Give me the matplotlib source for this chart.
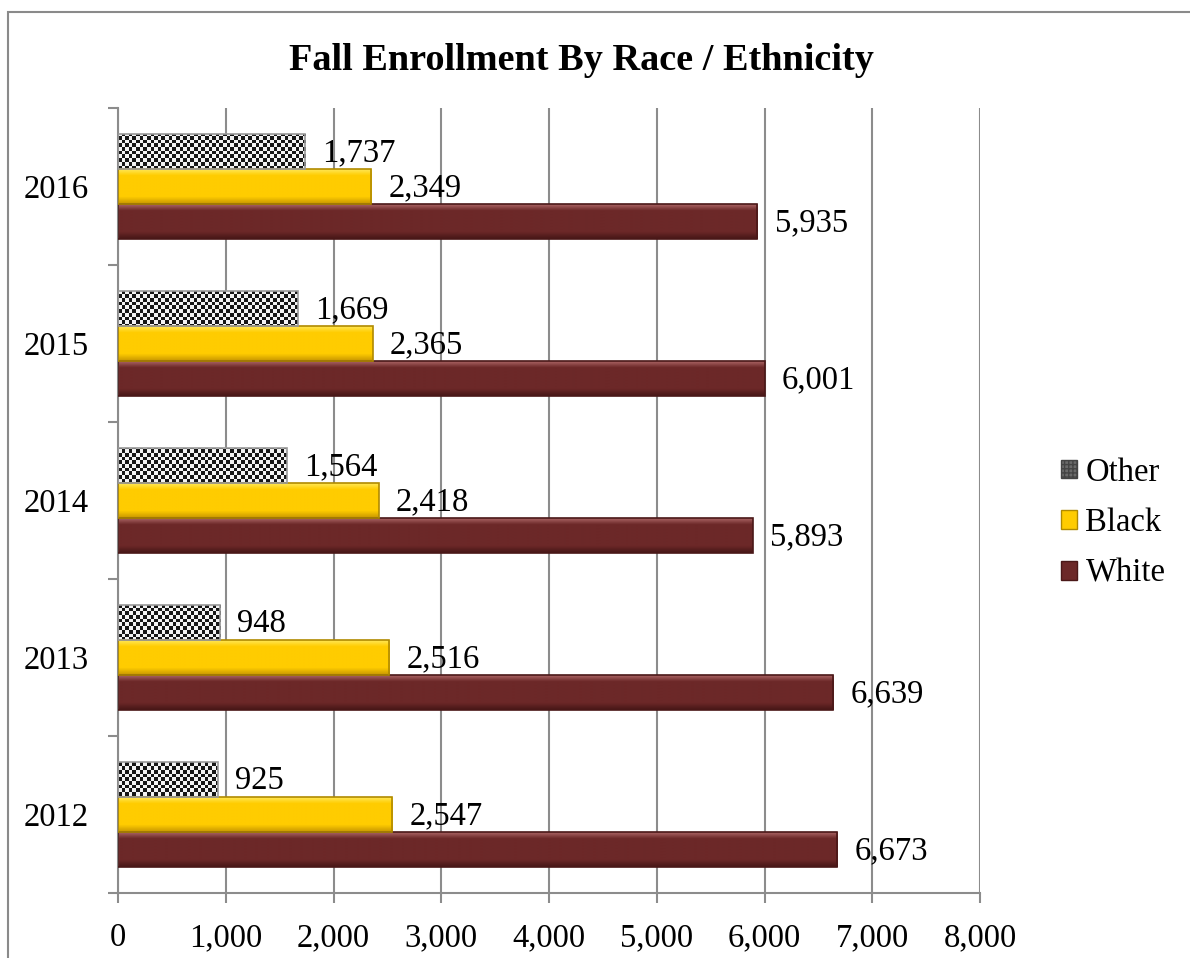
import numpy as np
import matplotlib
matplotlib.use("Agg")
import matplotlib.pyplot as plt
from matplotlib.patches import Patch, Rectangle
from matplotlib.ticker import FuncFormatter, MultipleLocator

plt.rcParams['font.family'] = ['Liberation Serif', 'DejaVu Serif']

years = ['2012', '2013', '2014', '2015', '2016']
white = [6673, 6639, 5893, 6001, 5935]
black = [2547, 2516, 2418, 2365, 2349]
other = [925, 948, 1564, 1669, 1737]

series_names = ['White', 'Black', 'Other']
series_vals = [white, black, other]

fig = plt.figure(figsize=(11.9, 9.58), dpi=100)
ax = fig.add_axes([118 / 1190, 1 - 893 / 958, (980 - 118) / 1190, (893 - 108) / 958])

# chart frame
fig.patches.append(Rectangle((8 / 1190, -0.1), 1.2, 1 - 12 / 958 + 0.1, transform=fig.transFigure,
                             fill=False, edgecolor='#8a8a8a', lw=1.5, zorder=0))

y = np.arange(len(years))
h = 0.223
offsets = [-h, 0, h]

grid_col = '#8c8c8c'


def shade(base, light, dark, n=60):
    # vertical bevel profile: light top edge, flat body, dark bottom edge
    base = np.array(base) / 255
    light = np.array(light) / 255
    dark = np.array(dark) / 255
    t = np.linspace(0, 1, n)
    rows = []
    for v in t:
        if v < 0.2:
            a = 1 - v / 0.2
            c = base * (1 - a) + light * a
        elif v > 0.8:
            a = (v - 0.8) / 0.2
            c = base * (1 - a) + dark * a
        else:
            c = base
        rows.append(c)
    return np.array(rows).reshape(n, 1, 3)


fills = {
    'White': shade((108, 40, 40), (180, 110, 110), (70, 22, 22)),
    'Black': shade((255, 204, 0), (255, 236, 100), (200, 150, 0)),
}
edges = {'White': '#4a1818', 'Black': '#b08a00', 'Other': '#9a9a9a'}

ax.set_xlim(0, 8000)
ax.set_ylim(-0.5, len(years) - 0.5)

# checker pattern for "Other"
nx, ny = int(862 / 3.6), int(785 / 3.6)
ii, jj = np.indices((ny, nx))
checker = ((ii + jj) % 2).astype(float)

for name, vals, off in zip(series_names, series_vals, offsets):
    bars = ax.barh(y + off, vals, height=h, facecolor='none', edgecolor=edges[name],
                   lw=1.2, zorder=3)
    for b in bars:
        x0, y0 = b.get_x(), b.get_y()
        if name == 'Other':
            im = ax.imshow(checker, cmap='gray', vmin=-0.1, vmax=1.05, extent=(0, 8000, -0.5, 4.5),
                           aspect='auto', interpolation='nearest', zorder=2)
        else:
            im = ax.imshow(fills[name], extent=(x0, x0 + b.get_width(), y0, y0 + b.get_height()),
                           aspect='auto', interpolation='bilinear', zorder=2)
        im.set_clip_path(b)
    for b, v in zip(bars, vals):
        ax.text(v + 160, b.get_y() + b.get_height() / 2 - 0.01, f'{v:,}', va='center', ha='left',
                fontsize=23.5, zorder=4)

ax.set_xlim(0, 8000)
ax.set_ylim(-0.5, len(years) - 0.5)

ax.xaxis.set_major_locator(MultipleLocator(1000))
ax.xaxis.set_major_formatter(FuncFormatter(lambda v, p: f'{int(v):,}'))
ax.grid(axis='x', color=grid_col, lw=1.5)
ax.set_axisbelow(True)

ax.set_yticks(y)
ax.set_yticklabels(years)
ax.set_yticks(np.arange(-0.5, len(years)), minor=True)
ax.tick_params(axis='y', which='major', length=0, pad=21, labelsize=23.5)
ax.tick_params(axis='y', which='minor', length=7.5, width=1.5, color=grid_col)
ax.tick_params(axis='x', length=7.5, width=1.5, color=grid_col, pad=14, labelsize=23.5)

for s in ['top', 'right']:
    ax.spines[s].set_visible(False)
for s in ['left', 'bottom']:
    ax.spines[s].set_color(grid_col)
    ax.spines[s].set_linewidth(1.5)

fig.text(581 / 1190, 1 - 61 / 958, 'Fall Enrollment By Race / Ethnicity', ha='center', va='center',
         fontsize=27.5, fontweight='bold')

handles = [
    Patch(facecolor='#6a6a6a', edgecolor='#444444', hatch='++++', label='Other'),
    Patch(facecolor='#ffcc00', edgecolor='#b08a00', label='Black'),
    Patch(facecolor='#6c2828', edgecolor='#4a1818', label='White'),
]
fig.legend(handles=handles, loc='center left', bbox_to_anchor=(1061 / 1190, 1 - 523 / 958),
           frameon=False, fontsize=23.5, handlelength=0.5, handleheight=0.5, handletextpad=0.25,
           labelspacing=0.62, borderaxespad=0, borderpad=0)

fig.savefig('out.png', dpi=100)
